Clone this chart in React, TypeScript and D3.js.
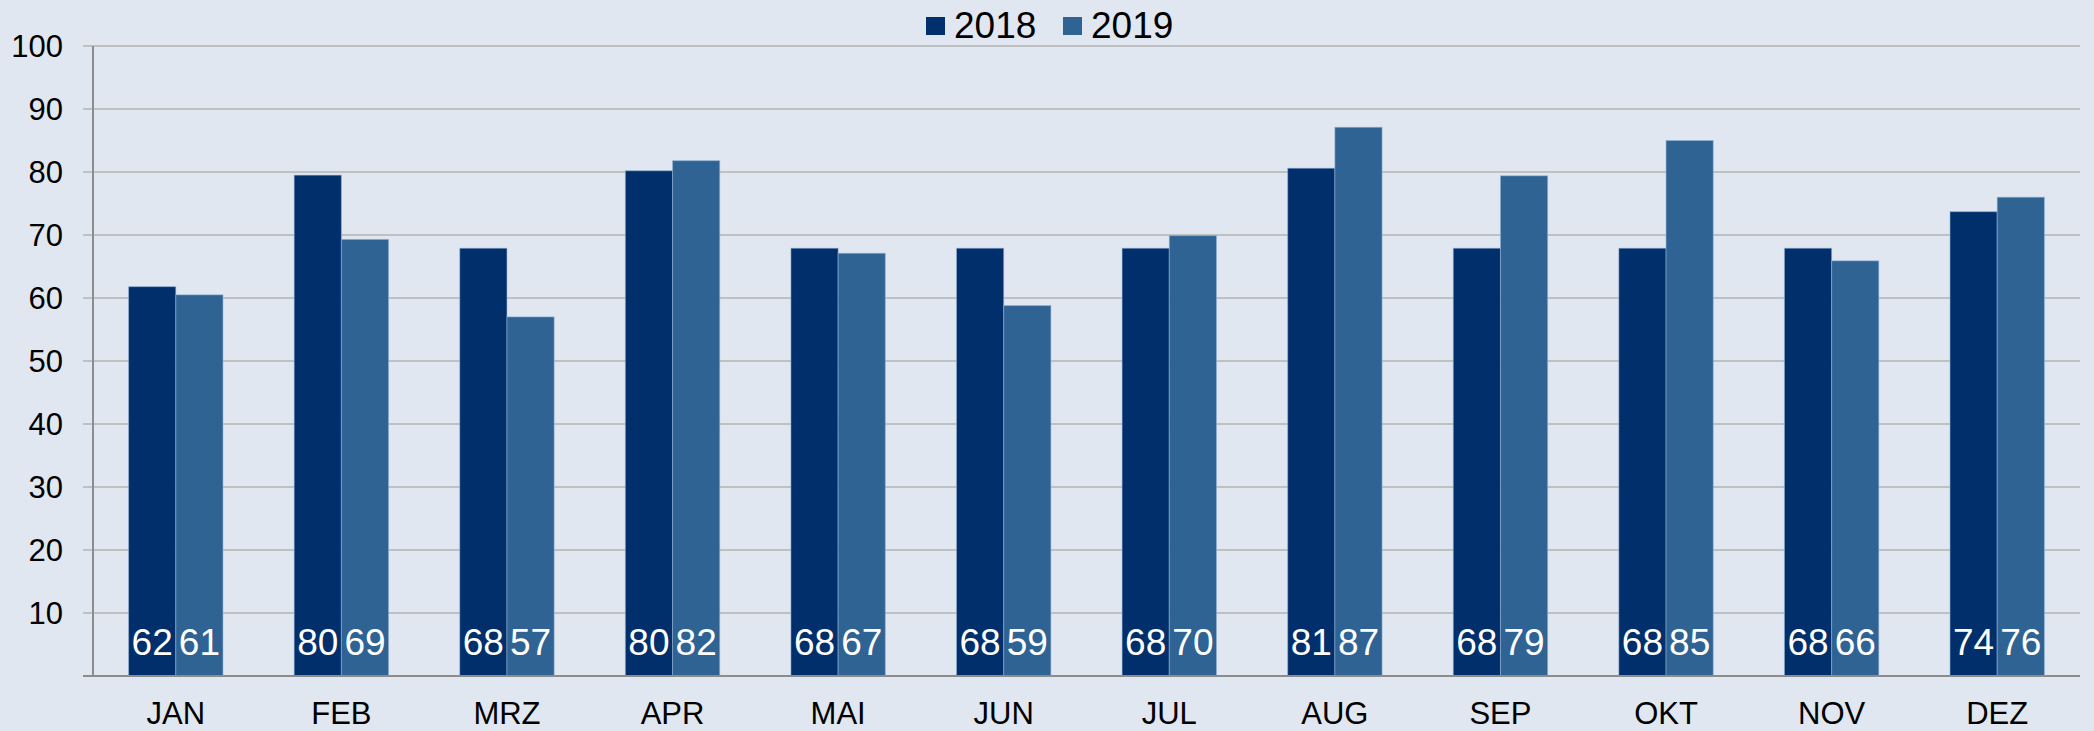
import React from 'react'
import * as d3 from 'd3'

const months = ['JAN', 'FEB', 'MRZ', 'APR', 'MAI', 'JUN', 'JUL', 'AUG', 'SEP', 'OKT', 'NOV', 'DEZ']
const series = ['2018', '2019']
const values2018 = [61.8, 79.5, 67.9, 80.2, 67.9, 67.9, 67.9, 80.6, 67.9, 67.9, 67.9, 73.7]
const values2019 = [60.5, 69.3, 57.0, 81.8, 67.1, 58.8, 69.9, 87.1, 79.4, 85.0, 65.9, 76.0]
const yTicks = [10, 20, 30, 40, 50, 60, 70, 80, 90, 100]

const colors = ['#002f6c', '#2f6394']
const font = '"Liberation Sans", Arial, sans-serif'

export default function App() {
  const width = 2094
  const height = 731
  const left = 93
  const right = 2080
  const top = 46
  const bottom = 676

  React.useEffect(() => {
    document.body.style.margin = '0'
  }, [])

  const x0 = d3.scaleBand<string>().domain(months).range([left, right]).paddingInner(0.43).paddingOuter(0.215)
  const x1 = d3.scaleBand<string>().domain(series).range([0, x0.bandwidth()])
  const y = d3.scaleLinear().domain([0, 100]).range([bottom, top])
  const data = [values2018, values2019]

  return (
    <svg width={width} height={height} style={{ display: 'block', fontFamily: font }}>
      <rect x={0} y={0} width={width} height={height} fill="#e0e7f0" />
      {/* grid */}
      {yTicks.map(t => (
        <g key={t}>
          <line x1={left - 10} x2={right} y1={y(t)} y2={y(t)} stroke="#b3b3b3" strokeWidth={1.5} />
          <text x={63} y={y(t)} dy="0.36em" textAnchor="end" fontSize={31} fill="#000">{t}</text>
        </g>
      ))}
      {/* bars */}
      {months.map((m, i) => (
        <g key={m} transform={`translate(${x0(m)},0)`}>
          {series.map((s, j) => {
            const v = data[j][i]
            const bx = x1(s)!
            return (
              <g key={s}>
                <rect x={bx} y={y(v)} width={x1.bandwidth()} height={y(0) - y(v)} fill={colors[j]}
                  stroke="rgba(150,180,215,0.55)" strokeWidth={1} />
                <text x={bx + x1.bandwidth() / 2} y={655} textAnchor="middle" fontSize={37} fill="#fff">
                  {Math.round(v)}
                </text>
              </g>
            )
          })}
          <text x={x0.bandwidth() / 2} y={724} textAnchor="middle" fontSize={31} fill="#000">{m}</text>
        </g>
      ))}
      {/* axes */}
      <line x1={left} x2={left} y1={top} y2={bottom} stroke="#8c8c8c" strokeWidth={2} />
      <line x1={left - 10} x2={right} y1={bottom} y2={bottom} stroke="#8c8c8c" strokeWidth={2} />
      {/* legend */}
      {series.map((s, j) => {
        const lx = j === 0 ? 926 : 1063
        return (
          <g key={s}>
            <rect x={lx} y={17} width={19} height={18} fill={colors[j]} />
            <text x={lx + 28} y={38} fontSize={37} fill="#000">{s}</text>
          </g>
        )
      })}
    </svg>
  )
}
